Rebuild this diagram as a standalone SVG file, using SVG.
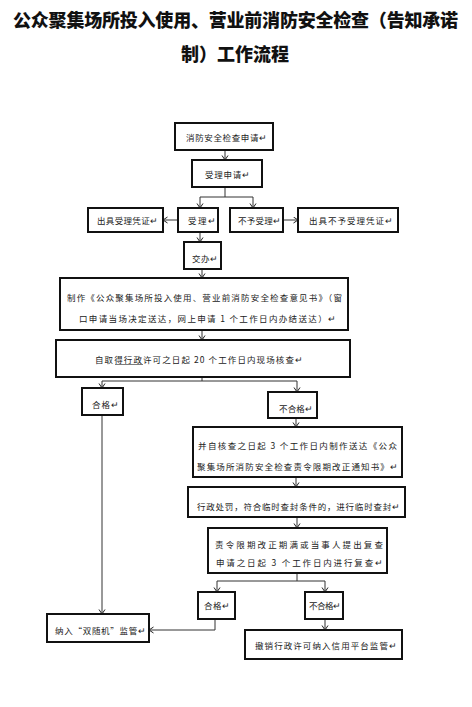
<svg xmlns="http://www.w3.org/2000/svg" width="472" height="707" viewBox="0 0 472 707">
<defs>
<marker id="ah" markerUnits="userSpaceOnUse" markerWidth="8" markerHeight="8" refX="5" refY="3.5" orient="auto">
<path d="M0.5,0.5 L5,3.5 L0.5,6.5" fill="none" stroke="#222" stroke-width="1"/>
</marker>
<style>
.b{fill:#fff;stroke:#111;stroke-width:2}
.t{font-family:"Noto Sans CJK SC","Noto Sans",sans-serif;font-size:8.5px;fill:#222;dominant-baseline:central}
.h{font-family:"Noto Sans CJK SC","Noto Sans",sans-serif;font-size:18px;font-weight:900;fill:#111;dominant-baseline:central}
.c{fill:none;stroke:#333;stroke-width:1}
.a{marker-end:url(#ah)}
</style>
</defs>
<rect width="472" height="707" fill="#fff"/>
<g id="title">
<text class="h" x="13" y="19" textLength="445" lengthAdjust="spacing">公众聚集场所投入使用、营业前消防安全检查（告知承诺</text>
<text class="h" x="235" y="53" text-anchor="middle">制）工作流程</text>
</g>
<g id="connectors">
<path class="c a" d="M225,150 V160"/>
<path class="c" d="M225,187 V197 M200,197 H253"/>
<path class="c a" d="M200,197 V208"/>
<path class="c a" d="M253,197 V208"/>
<path class="c a" d="M178,220 H163"/>
<path class="c a" d="M283,220 H298"/>
<path class="c a" d="M200,232 V242"/>
<path class="c a" d="M202,269 V278"/>
<path class="c a" d="M202,330 V340"/>
<path class="c" d="M202,377 V381 M102,381 H297"/>
<path class="c a" d="M102,381 V388"/>
<path class="c a" d="M297,381 V392"/>
<path class="c a" d="M102,415 V614"/>
<path class="c a" d="M296,418 V427"/>
<path class="c a" d="M296,477 V487"/>
<path class="c a" d="M297,517 V528"/>
<path class="c" d="M297,573 V581 M217,581 H325"/>
<path class="c a" d="M217,581 V592"/>
<path class="c a" d="M325,581 V592"/>
<path class="c a" d="M215,619 V630 H149"/>
<path class="c a" d="M325,619 V630"/>
</g>
<g id="n1"><rect class="b" x="175" y="123" width="98" height="27"/><text class="t" x="186" y="137" textLength="81" lengthAdjust="spacing">消防安全检查申请↵</text></g>
<g id="n2"><rect class="b" x="192" y="160" width="70" height="27"/><text class="t" x="205" y="174" textLength="45" lengthAdjust="spacing">受理申请↵</text></g>
<g id="n3"><rect class="b" x="88" y="208" width="75" height="24"/><text class="t" x="97" y="220" textLength="61" lengthAdjust="spacing">出具受理凭证↵</text></g>
<g id="n4"><rect class="b" x="178" y="208" width="40" height="24"/><text class="t" x="188" y="220" textLength="28" lengthAdjust="spacing">受理↵</text></g>
<g id="n5"><rect class="b" x="230" y="208" width="53" height="24"/><text class="t" x="238" y="220" textLength="43" lengthAdjust="spacing">不予受理↵</text></g>
<g id="n6"><rect class="b" x="298" y="208" width="100" height="24"/><text class="t" x="309" y="220" textLength="84" lengthAdjust="spacing">出具不予受理凭证↵</text></g>
<g id="n7"><rect class="b" x="184" y="242" width="37" height="27"/><text class="t" x="192" y="258" textLength="26" lengthAdjust="spacing">交办↵</text></g>
<g id="n8"><rect class="b" x="60" y="278" width="288" height="52"/>
<text class="t" x="67" y="297" textLength="275" lengthAdjust="spacing">制作《公众聚集场所投入使用、营业前消防安全检查意见书》（窗</text>
<text class="t" x="79" y="318" textLength="257" lengthAdjust="spacing">口申请当场决定送达，网上申请 1 个工作日内办结送达）↵</text></g>
<g id="n9"><rect class="b" x="56" y="340" width="294" height="37"/>
<text class="t" x="95" y="359" textLength="208" lengthAdjust="spacing">自取得行政许可之日起 20 个工作日内现场核查↵</text>
<line x1="115" y1="364.5" x2="143" y2="364.5" stroke="#444" stroke-width="0.7"/></g>
<g id="n10"><rect class="b" x="82" y="388" width="41" height="27"/><text class="t" x="92" y="404" textLength="27" lengthAdjust="spacing">合格↵</text></g>
<g id="n11"><rect class="b" x="268" y="392" width="49" height="26"/><text class="t" x="279" y="408" textLength="34" lengthAdjust="spacing">不合格↵</text></g>
<g id="n12"><rect class="b" x="193" y="427" width="209" height="50"/>
<text class="t" x="198" y="445" textLength="199" lengthAdjust="spacing">并自核查之日起 3 个工作日内制作送达《公众</text>
<text class="t" x="197" y="466" textLength="201" lengthAdjust="spacing">聚集场所消防安全检查责令限期改正通知书》↵</text></g>
<g id="n13"><rect class="b" x="188" y="487" width="217" height="30"/>
<text class="t" x="197" y="506" textLength="203" lengthAdjust="spacing">行政处罚，符合临时查封条件的，进行临时查封↵</text></g>
<g id="n14"><rect class="b" x="208" y="528" width="179" height="45"/>
<text class="t" x="215" y="544" textLength="168" lengthAdjust="spacing">责令限期改正期满或当事人提出复查</text>
<text class="t" x="216" y="562" textLength="167" lengthAdjust="spacing">申请之日起 3 个工作日内进行复查↵</text></g>
<g id="n15"><rect class="b" x="198" y="592" width="37" height="27"/><text class="t" x="204" y="605" textLength="26" lengthAdjust="spacing">合格↵</text></g>
<g id="n16"><rect class="b" x="305" y="592" width="38" height="27"/><text class="t" x="309" y="605" textLength="32" lengthAdjust="spacing">不合格↵</text></g>
<g id="n17"><rect class="b" x="47" y="614" width="102" height="28"/><text class="t" x="55" y="630" textLength="91" lengthAdjust="spacing">纳入“双随机”监管↵</text></g>
<g id="n18"><rect class="b" x="245" y="630" width="157" height="29"/><text class="t" x="255" y="645" textLength="142" lengthAdjust="spacing">撤销行政许可纳入信用平台监管↵</text></g>
</svg>
